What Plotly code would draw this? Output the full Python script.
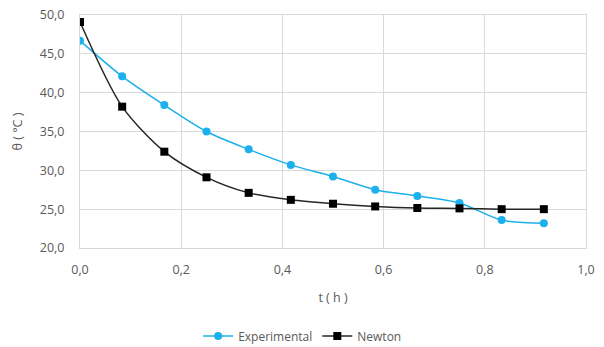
import plotly.graph_objects as go

t_hours = [0.0, 1/12, 2/12, 3/12, 4/12, 5/12, 6/12, 7/12, 8/12, 9/12, 10/12, 11/12]
experimental = [46.7, 42.1, 38.4, 35.0, 32.7, 30.7, 29.2, 27.5, 26.7, 25.8, 23.6, 23.2]
newton = [49.1, 38.2, 32.4, 29.1, 27.1, 26.2, 25.7, 25.35, 25.15, 25.1, 25.0, 25.0]

x_ticks = [0, 0.2, 0.4, 0.6, 0.8, 1.0]
y_ticks = [20, 25, 30, 35, 40, 45, 50]

font_fam = "Open Sans, Liberation Sans, sans-serif"
tick_col = "#595959"
grid_col = "#d9d9d9"

fig = go.Figure()
fig.add_trace(go.Scatter(
    x=t_hours, y=experimental, name="Experimental", mode="lines+markers",
    line=dict(color="#1cb0ec", width=1.5, shape="spline", smoothing=0.8),
    marker=dict(symbol="circle", size=8, color="#1cb0ec"),
))
fig.add_trace(go.Scatter(
    x=t_hours, y=newton, name="Newton", mode="lines+markers",
    line=dict(color="#262626", width=1.5, shape="spline", smoothing=0.8),
    marker=dict(symbol="square", size=8, color="#000000"),
))

fig.update_layout(
    width=604, height=347,
    margin=dict(l=80, r=18, t=15, b=99, autoexpand=False),
    paper_bgcolor="white", plot_bgcolor="white",
    separators=", ",
    font=dict(family=font_fam, size=12, color=tick_col),
    showlegend=True,
    legend=dict(orientation="h", x=0.44, xanchor="center", y=-0.44, yanchor="bottom",
                font=dict(size=12, color=tick_col), itemwidth=30, tracegroupgap=0),
)
fig.update_xaxes(
    range=[0, 1], tickvals=x_ticks, tickformat=".1f", automargin=False,
    showgrid=True, gridcolor=grid_col, gridwidth=1,
    showline=True, linecolor=grid_col, linewidth=1, mirror=True,
    zeroline=False, ticks="", ticklabelstandoff=10,
    tickfont=dict(size=12.5),
    title=dict(text="t ( h )", font=dict(size=12.5, color=tick_col), standoff=16),
)
fig.update_yaxes(
    range=[20, 50], tickvals=y_ticks, tickformat=".1f", automargin=False,
    showgrid=True, gridcolor=grid_col, gridwidth=1,
    showline=True, linecolor=grid_col, linewidth=1, mirror=True,
    zeroline=False, ticks="", ticklabelstandoff=12,
    tickfont=dict(size=12.5),
    title=dict(text="θ ( °C )", font=dict(size=12.5, color=tick_col), standoff=14),
)

fig.write_html("out.html")
